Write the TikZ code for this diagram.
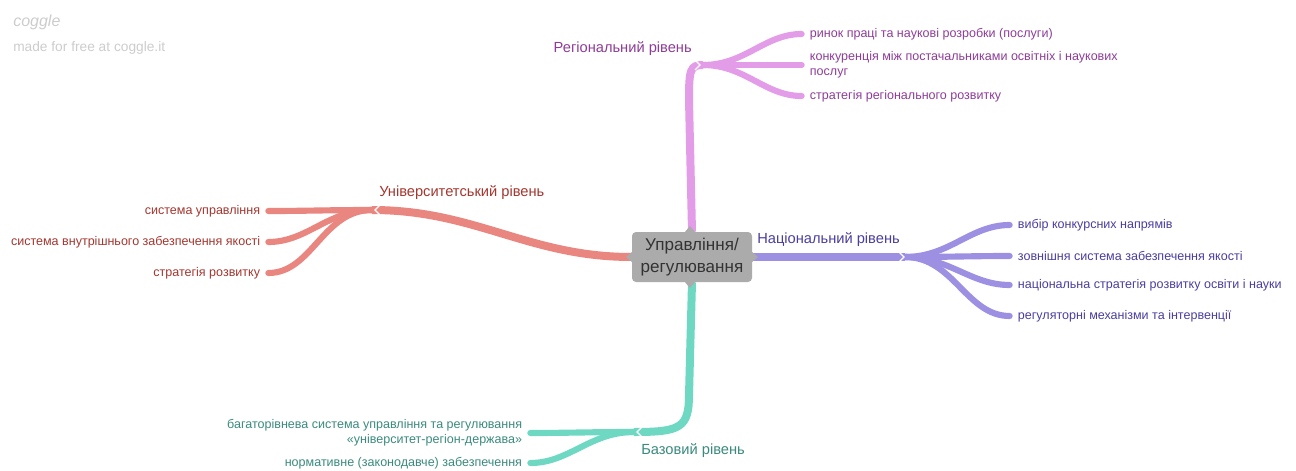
\documentclass[tikz,border=0pt]{standalone}
\usepackage{fontspec}
\setmainfont{Liberation Sans}
\usetikzlibrary{positioning}

\definecolor{regline}{HTML}{E39CE8}
\definecolor{regtext}{HTML}{8E3C98}
\definecolor{natline}{HTML}{9D8FE2}
\definecolor{nattext}{HTML}{4A3E9E}
\definecolor{uniline}{HTML}{E8867F}
\definecolor{unitext}{HTML}{A3362F}
\definecolor{basline}{HTML}{6ED8C3}
\definecolor{bastext}{HTML}{3A8A7D}
\definecolor{boxfill}{HTML}{ABABAB}
\definecolor{mark}{HTML}{CCCCCC}

\tikzset{
  leaf/.style={font=\fontsize{9.4}{11.5}\selectfont, inner sep=2pt},
  level/.style={font=\fontsize{11}{13}\selectfont, inner sep=0pt},
  trunk/.style={line width=6pt},
  twig/.style={line width=4.6pt, line cap=round, shorten >=4pt},
  chev/.style={white, line width=0.9pt},
}

\begin{document}
\begin{tikzpicture}[x=0.75pt,y=-0.75pt]
\useasboundingbox (0,0) rectangle (1296,471);

% watermark
\node[anchor=west, text=mark, font=\fontsize{12}{13}\selectfont\itshape, inner sep=0pt] (logo) at (13,22) {coggle};
\node[anchor=west, text=mark, font=\fontsize{10.3}{12}\selectfont, inner sep=0pt] (made) at (13,48) {made for free at coggle.it};

% centre
\node[fill=boxfill, rounded corners=3pt, minimum width=90pt, minimum height=37.5pt,
      align=center, text=black!80, font=\fontsize{12.8}{16}\selectfont] (box) at (692,257) {Управління/\\регулювання};

% junctions
\coordinate (reg) at (703,65);
\coordinate (nat) at (905,257);
\coordinate (uni) at (372,210);
\coordinate (bas) at (634,432);

% main branches
\draw[trunk, regline] (box.north) -- (689,100) .. controls (689,70) and (690,65) .. (reg);
\draw[trunk, natline] (box.east) -- (nat);
\draw[trunk, uniline] (box.west) to[out=180, in=0] (uni);
\draw[trunk, basline] (box.south) -- (689,395) .. controls (689,428) and (680,432) .. (bas);

% level labels
\node[level, text=regtext, anchor=east] (reglab) at (692,49) {Регіональний рівень};
\node[level, text=nattext, anchor=west] (natlab) at (757,240) {Національний рівень};
\node[level, text=unitext, anchor=west] (unilab) at (379,193) {Університетський рівень};
\node[level, text=bastext, anchor=west] (baslab) at (641,451) {Базовий рівень};

% regional
\node[leaf, text=regtext, anchor=west] (r1) at (807,34) {ринок праці та наукові розробки (послуги)};
\node[leaf, text=regtext, anchor=west, align=left] (r2) at (807,65) {конкуренція між постачальниками освітніх і наукових\\послуг};
\node[leaf, text=regtext, anchor=west] (r3) at (807,96) {стратегія регіонального розвитку};
\foreach \n in {r1,r2,r3}
  \draw[twig, regline] (reg) to[out=0, in=180] (\n.west);

% national
\node[leaf, text=nattext, anchor=west] (n1) at (1015,225) {вибір конкурсних напрямів};
\node[leaf, text=nattext, anchor=west] (n2) at (1015,256) {зовнішня система забезпечення якості};
\node[leaf, text=nattext, anchor=west] (n3) at (1015,285) {національна стратегія розвитку освіти і науки};
\node[leaf, text=nattext, anchor=west] (n4) at (1015,316) {регуляторні механізми та інтервенції};
\foreach \n in {n1,n2,n3,n4}
  \draw[twig, natline] (nat) to[out=0, in=180] (\n.west);

% university
\node[leaf, text=unitext, anchor=east] (u1) at (263,211) {система управління};
\node[leaf, text=unitext, anchor=east] (u2) at (263,242) {система внутрішнього забезпечення якості};
\node[leaf, text=unitext, anchor=east] (u3) at (263,273) {стратегія розвитку};
\foreach \n in {u1,u2,u3}
  \draw[twig, uniline] (uni) to[out=180, in=0] (\n.east);

% basic
\node[leaf, text=bastext, anchor=east, align=right] (b1) at (525,433) {багаторівнева система управління та регулювання\\«університет-регіон-держава»};
\node[leaf, text=bastext, anchor=east] (b2) at (525,463) {нормативне (законодавче) забезпечення};
\foreach \n in {b1,b2}
  \draw[twig, basline] (bas) to[out=180, in=0] (\n.east);

% box pointers and junction marks
\fill[boxfill] (684,233) -- (690,226) -- (696,233) -- cycle;
\fill[boxfill] (684,281) -- (690,288) -- (696,281) -- cycle;
\fill[boxfill] (633,251) -- (626,257) -- (633,263) -- cycle;
\fill[boxfill] (751,251) -- (758,257) -- (751,263) -- cycle;
\draw[chev] (695,60) -- (700,65) -- (695,70);
\draw[chev] (899,252) -- (904,257) -- (899,262);
\draw[chev] (380,205) -- (375,210) -- (380,215);
\draw[chev] (642,427) -- (637,432) -- (642,437);
\end{tikzpicture}
\end{document}
